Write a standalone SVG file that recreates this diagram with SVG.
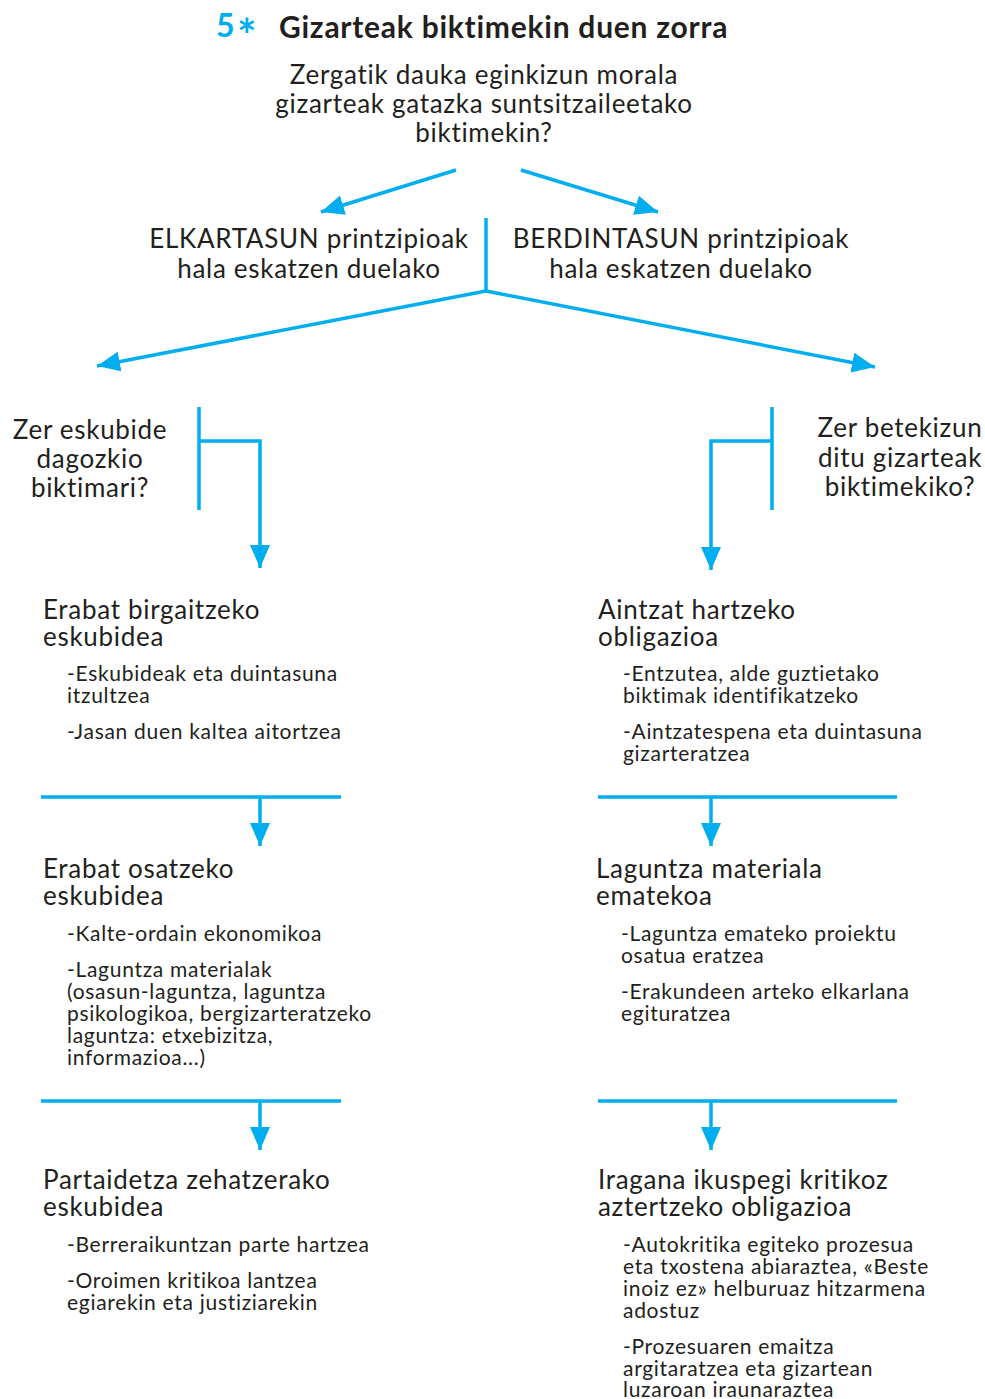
<svg xmlns="http://www.w3.org/2000/svg" width="985" height="1399" viewBox="0 0 985 1399">
<defs>
<marker id="ah" markerUnits="userSpaceOnUse" markerWidth="24" markerHeight="22" viewBox="0 0 24 22" refX="23" refY="11" orient="auto">
<path d="M0,1 L23,11 L0,21 Z" fill="#00aeef"/>
</marker>
</defs>
<style>
.t{font-family:Lato,"Liberation Sans",sans-serif;fill:#231f20;font-variant-ligatures:none;font-feature-settings:"liga" 0,"clig" 0}
.q{font-size:26px;letter-spacing:0.7px;text-anchor:middle}
.h{font-size:26px;letter-spacing:0.7px}
.i{font-size:21px;letter-spacing:0.7px}
.c{stroke:#00aeef;stroke-width:3.5;fill:none}
.a{marker-end:url(#ah)}
</style>
<rect width="985" height="1399" fill="#fff"/>
<g id="title">
<text class="t" x="216" y="37" style="font-size:32px;font-weight:bold;fill:#00aeef">5<tspan x="237" y="52" style="font-size:46px">*</tspan></text>
<text class="t" x="279" y="38" style="font-size:30px;font-weight:bold;letter-spacing:0.75px">Gizarteak biktimekin duen zorra</text>
</g>
<g id="question">
<text class="t q" x="484" y="84">Zergatik dauka eginkizun morala</text>
<text class="t q" x="484" y="113">gizarteak gatazka suntsitzaileetako</text>
<text class="t q" x="484" y="142">biktimekin?</text>
</g>
<g id="elkartasun">
<text class="t q" x="309" y="248">ELKARTASUN printzipioak</text>
<text class="t q" x="309" y="278">hala eskatzen duelako</text>
</g>
<g id="berdintasun">
<text class="t q" x="681" y="248">BERDINTASUN printzipioak</text>
<text class="t q" x="681" y="278">hala eskatzen duelako</text>
</g>
<g id="eskubide-q">
<text class="t q" x="90" y="439">Zer eskubide</text>
<text class="t q" x="90" y="468">dagozkio</text>
<text class="t q" x="90" y="497">biktimari?</text>
</g>
<g id="betekizun-q">
<text class="t q" x="900" y="437">Zer betekizun</text>
<text class="t q" x="900" y="467">ditu gizarteak</text>
<text class="t q" x="900" y="496">biktimekiko?</text>
</g>
<g id="birgaitzeko">
<text class="t h" x="43" y="619">Erabat birgaitzeko</text>
<text class="t h" x="43" y="646">eskubidea</text>
<text class="t i" x="67" y="681">-Eskubideak eta duintasuna</text>
<text class="t i" x="67" y="703">itzultzea</text>
<text class="t i" x="67" y="739">-Jasan duen kaltea aitortzea</text>
</g>
<g id="osatzeko">
<text class="t h" x="43" y="878">Erabat osatzeko</text>
<text class="t h" x="43" y="905">eskubidea</text>
<text class="t i" x="67" y="941">-Kalte-ordain ekonomikoa</text>
<text class="t i" x="67" y="977">-Laguntza materialak</text>
<text class="t i" x="67" y="999">(osasun-laguntza, laguntza</text>
<text class="t i" x="67" y="1021">psikologikoa, bergizarteratzeko</text>
<text class="t i" x="67" y="1043">laguntza: etxebizitza,</text>
<text class="t i" x="67" y="1065">informazioa...)</text>
</g>
<g id="partaidetza">
<text class="t h" x="43" y="1189">Partaidetza zehatzerako</text>
<text class="t h" x="43" y="1216">eskubidea</text>
<text class="t i" x="67" y="1252">-Berreraikuntzan parte hartzea</text>
<text class="t i" x="67" y="1288">-Oroimen kritikoa lantzea</text>
<text class="t i" x="67" y="1310">egiarekin eta justiziarekin</text>
</g>
<g id="aintzat">
<text class="t h" x="598" y="619">Aintzat hartzeko</text>
<text class="t h" x="598" y="646">obligazioa</text>
<text class="t i" x="623" y="681">-Entzutea, alde guztietako</text>
<text class="t i" x="623" y="703">biktimak identifikatzeko</text>
<text class="t i" x="623" y="739">-Aintzatespena eta duintasuna</text>
<text class="t i" x="623" y="761">gizarteratzea</text>
</g>
<g id="laguntza">
<text class="t h" x="596" y="878">Laguntza materiala</text>
<text class="t h" x="596" y="905">ematekoa</text>
<text class="t i" x="621" y="941">-Laguntza emateko proiektu</text>
<text class="t i" x="621" y="963">osatua eratzea</text>
<text class="t i" x="621" y="999">-Erakundeen arteko elkarlana</text>
<text class="t i" x="621" y="1021">egituratzea</text>
</g>
<g id="iragana">
<text class="t h" x="598" y="1189">Iragana ikuspegi kritikoz</text>
<text class="t h" x="598" y="1216">aztertzeko obligazioa</text>
<text class="t i" x="623" y="1252">-Autokritika egiteko prozesua</text>
<text class="t i" x="623" y="1274">eta txostena abiaraztea, «Beste</text>
<text class="t i" x="623" y="1296">inoiz ez» helburuaz hitzarmena</text>
<text class="t i" x="623" y="1318">adostuz</text>
<text class="t i" x="623" y="1354">-Prozesuaren emaitza</text>
<text class="t i" x="623" y="1376">argitaratzea eta gizartean</text>
<text class="t i" x="623" y="1397">luzaroan iraunaraztea</text>
</g>
<g id="connectors">
<line class="c a" x1="456" y1="170" x2="321" y2="212"/>
<line class="c a" x1="521" y1="170" x2="658" y2="212"/>
<line class="c" x1="486" y1="218" x2="486" y2="291"/>
<line class="c a" x1="486" y1="291" x2="97" y2="366"/>
<line class="c a" x1="486" y1="291" x2="875" y2="367"/>
<line class="c" x1="199" y1="407" x2="199" y2="510"/>
<polyline class="c a" points="199,441 260,441 260,568"/>
<line class="c" x1="772" y1="407" x2="772" y2="510"/>
<polyline class="c a" points="772,441 711,441 711,570"/>
<line class="c" x1="41" y1="797" x2="341" y2="797"/>
<line class="c a" x1="260" y1="797" x2="260" y2="846"/>
<line class="c" x1="598" y1="797" x2="897" y2="797"/>
<line class="c a" x1="711" y1="797" x2="711" y2="846"/>
<line class="c" x1="41" y1="1101" x2="341" y2="1101"/>
<line class="c a" x1="260" y1="1101" x2="260" y2="1150"/>
<line class="c" x1="598" y1="1101" x2="897" y2="1101"/>
<line class="c a" x1="711" y1="1101" x2="711" y2="1150"/>
</g>
</svg>
